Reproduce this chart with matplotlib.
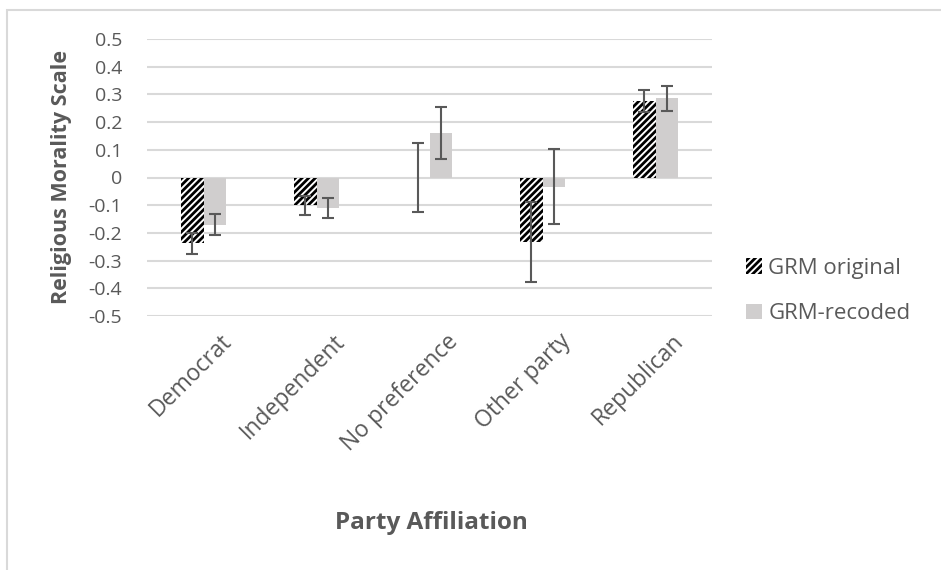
import matplotlib
matplotlib.use("Agg")
import matplotlib.pyplot as plt
import numpy as np
from matplotlib.patches import Rectangle

categories = ["Democrat", "Independent", "No preference", "Other party", "Republican"]
grm_original = [-0.238, -0.100, 0.0, -0.234, 0.276]
grm_original_err = [0.038, 0.034, 0.126, 0.145, 0.040]
grm_recoded = [-0.170, -0.109, 0.160, -0.033, 0.286]
grm_recoded_err = [0.038, 0.036, 0.094, 0.136, 0.045]
yticks = [0.5, 0.4, 0.3, 0.2, 0.1, 0, -0.1, -0.2, -0.3, -0.4, -0.5]
ytick_labels = ["0.5", "0.4", "0.3", "0.2", "0.1", "0", "-0.1", "-0.2", "-0.3", "-0.4", "-0.5"]

plt.rcParams['font.family'] = ['Open Sans', 'DejaVu Sans']
plt.rcParams['hatch.linewidth'] = 2.0

W, H = 941, 570
fig = plt.figure(figsize=(W / 100, H / 100), dpi=100)
ax = fig.add_axes([147 / W, 1 - 316 / H, (712 - 147) / W, (316 - 39) / H])

# figure border
fig.patches.append(Rectangle((7 / W, -0.1), 1.2, (H - 10) / H + 0.1, transform=fig.transFigure,
                             fill=False, edgecolor="#D9D9D9", linewidth=1.5))

x = np.arange(len(categories))
bw = 0.2
txt = "#595959"
ax.bar(x - bw / 2, grm_original, bw, color="white", edgecolor="black", linewidth=0,
       hatch="/////", label="GRM original", zorder=2)
ax.bar(x + bw / 2, grm_recoded, bw, color="#D0CECE", linewidth=0, label="GRM-recoded", zorder=2)
ax.errorbar(x - bw / 2, grm_original, yerr=grm_original_err, fmt="none", ecolor=txt,
            elinewidth=1.5, capsize=4.5, capthick=1.5, zorder=3)
ax.errorbar(x + bw / 2, grm_recoded, yerr=grm_recoded_err, fmt="none", ecolor=txt,
            elinewidth=1.5, capsize=4.5, capthick=1.5, zorder=3)

ax.set_xlim(-0.5, len(categories) - 0.5)
ax.set_ylim(-0.5, 0.5)
ax.set_yticks(yticks)
ax.set_yticklabels(ytick_labels, fontsize=14, color=txt)
ax.yaxis.grid(True, color="#D9D9D9", linewidth=1.5, zorder=0)
ax.set_axisbelow(True)
for s in ax.spines.values():
    s.set_visible(False)
ax.tick_params(axis="y", length=0, pad=18)
ax.tick_params(axis="x", length=0, pad=16)
ax.set_xticks(x)
ax.set_xticklabels(categories, rotation=45, ha="right", va="center", rotation_mode="anchor",
                   fontsize=16.5, color=txt)
for lbl in ax.get_xticklabels():
    lbl.set_transform(lbl.get_transform() + matplotlib.transforms.ScaledTranslation(25 / 100, 0, fig.dpi_scale_trans))

ax.set_ylabel("Religious Morality Scale", fontsize=15.5, fontweight="bold", color=txt, labelpad=12)
fig.text(431 / W, 1 - 523 / H, "Party Affiliation", fontsize=17.5, fontweight="bold", color=txt,
         ha="center", va="center")

leg = fig.legend(loc="center left", bbox_to_anchor=(726 / W, 1 - 291 / H), frameon=False,
                 fontsize=16, labelspacing=1.1, handlelength=0.7, handleheight=0.7,
                 handletextpad=0.3, labelcolor=txt)

fig.savefig("out.png", dpi=100)
